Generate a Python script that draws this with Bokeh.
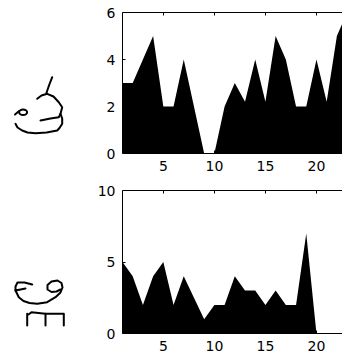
from bokeh.plotting import figure
from bokeh.layouts import column, row
from bokeh.models import Range1d, LinearAxis, FixedTicker, ColumnDataSource
from bokeh.embed import file_html
from bokeh.resources import INLINE

# ---- data ----
x_vals = list(range(1, 24))
top_vals = [3, 3, 4, 5, 2, 2, 4, 2, 0, 0, 2, 3, 2.2, 4, 2.2, 5, 4, 2, 2, 4, 2.2, 5, 6]
bot_vals = [5, 4, 2, 4, 5, 2, 4, 2.5, 1, 2, 2, 4, 3, 3, 2, 3, 2, 2, 7, 0, 0, 0, 0]
x_ticks = [5, 10, 15, 20]
top_y_ticks = [0, 2, 4, 6]
bot_y_ticks = [0, 5, 10]

# handwritten sample images on the left, approximated as pen strokes (page pixels)
top_glyph_strokes = [
    [(51.7, 76.7), (48.5, 85), (45.7, 93.3)],
    [(36.7, 98.3), (41, 95), (46.7, 93.3), (53, 96), (58.3, 101.7), (61.7, 106.7),
     (60, 113.3), (58.3, 116.7), (50, 118), (40, 120)],
    [(60, 113.3), (61.7, 118), (61.7, 123.3), (59, 127.5), (56.7, 130), (46, 132),
     (35, 132.7), (27, 132), (21.7, 130), (17, 127), (15, 123.3)],
    [(14.5, 114), (18.3, 110.7)],
]
top_glyph_loop = (22.6, 111.7, 8, 5.5)
bot_glyph_strokes = [
    [(31.7, 284), (24, 282), (17, 282), (15, 286), (15, 290), (20, 289), (25, 288)],
    [(15, 290), (18.3, 296.7), (23, 300.5), (29, 302.5), (36.7, 303.3), (46.7, 301.7),
     (55, 296.7), (60, 292), (62, 287), (61, 282.5), (57, 280), (51, 281), (47, 284.5),
     (47, 289), (51, 291.5), (56, 291), (60, 289)],
    [(26.7, 325), (26.7, 313.3)],
    [(28, 314), (31, 311.7), (45, 313.3), (45, 325)],
    [(45, 313.3), (63.3, 313.3), (63.3, 325)],
]

FONT = "DejaVu Sans"
FS = "14px"
BOTTOM_BORDER = 23


def glyph_fig(strokes, y_top, height, top_border, loop=None):
    # frames in a row get aligned with the neighbouring plot's frame
    f_top = y_top + top_border
    f_bot = y_top + height - BOTTOM_BORDER
    g = figure(width=88, height=height, x_range=Range1d(0, 88),
               y_range=Range1d(f_bot, f_top),
               output_backend="svg", toolbar_location=None,
               x_axis_location=None, y_axis_location=None,
               min_border=0, min_border_top=top_border, min_border_bottom=BOTTOM_BORDER,
               outline_line_color=None)
    g.grid.visible = False
    xs = [[p[0] for p in s] for s in strokes]
    ys = [[p[1] for p in s] for s in strokes]
    g.multi_line(xs, ys, line_color="black", line_width=2, line_join="round", line_cap="round")
    if loop:
        g.ellipse(x=[loop[0]], y=[loop[1]], width=[loop[2]], height=[loop[3]],
                  fill_color=None, line_color="black", line_width=2)
    return g


def area_fig(values, y_end, y_ticks, height, top_border):
    src = ColumnDataSource(dict(x=x_vals, y=values))
    p = figure(width=254, height=height, x_range=Range1d(1, 22.55),
               y_range=Range1d(0, y_end), output_backend="svg",
               toolbar_location=None, min_border_left=34, min_border_right=0,
               min_border_top=top_border, min_border_bottom=BOTTOM_BORDER,
               outline_line_color=None, x_axis_location=None, y_axis_location=None)
    p.grid.visible = False
    p.varea(x="x", y1=0, y2="y", source=src, fill_color="black")
    xa = LinearAxis(ticker=FixedTicker(ticks=x_ticks))
    ya = LinearAxis(ticker=FixedTicker(ticks=y_ticks))
    ta = LinearAxis(ticker=FixedTicker(ticks=x_ticks))
    for a in (xa, ya, ta):
        a.axis_line_color = "black"
        a.major_tick_line_color = "black"
        a.major_tick_in = 3
        a.major_tick_out = 0
        a.minor_tick_line_color = None
        a.major_label_text_font = FONT
        a.major_label_text_font_size = FS
        a.major_label_text_color = "black"
    xa.major_label_standoff = 7
    ya.major_label_standoff = 7
    ta.major_label_overrides = {t: "" for t in x_ticks}
    ta.major_label_standoff = 0
    p.add_layout(xa, "below")
    p.add_layout(ya, "left")
    p.add_layout(ta, "above")
    return p


p1 = area_fig(top_vals, 6, top_y_ticks, 176, 12)
p2 = area_fig(bot_vals, 10, bot_y_ticks, 180, 14)
g1 = glyph_fig(top_glyph_strokes, 0, 176, 12, top_glyph_loop)
g2 = glyph_fig(bot_glyph_strokes, 176, 180, 14)

layout = column(row(g1, p1, spacing=0), row(g2, p2, spacing=0), spacing=0)
open("out.html", "w").write(file_html(layout, INLINE))
